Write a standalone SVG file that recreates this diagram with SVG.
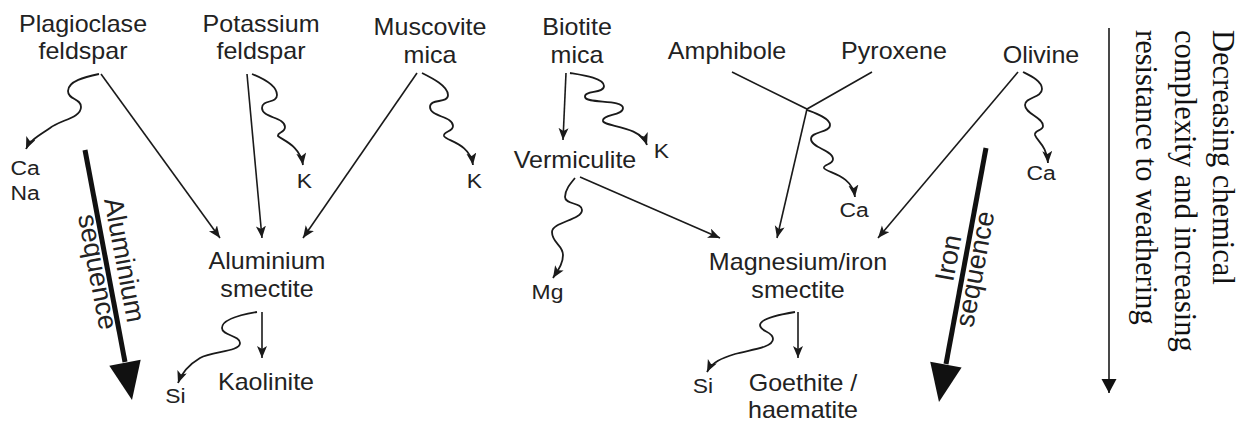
<svg xmlns="http://www.w3.org/2000/svg" width="1245" height="423" viewBox="0 0 1245 423">
<style>
.ln{fill:none;stroke:#1a1a1a;stroke-width:1.6}
.wv{fill:none;stroke:#1a1a1a;stroke-width:1.8}
.lb{font-family:"Liberation Sans",Arial,sans-serif;font-size:23px;fill:#222;text-anchor:middle}
.sm{font-size:21px}
.rt{font-family:"Liberation Sans",Arial,sans-serif;font-size:27px;fill:#222;text-anchor:middle}
.sf{font-family:"Liberation Serif","Times New Roman",serif;font-size:30.5px;fill:#111}
.thick{fill:none;stroke:#111;stroke-width:5}
</style>
<defs>
<marker id="ah" markerUnits="userSpaceOnUse" markerWidth="14" markerHeight="12" refX="12" refY="5" orient="auto">
<path d="M0,0 L12,5 L0,10 L3,5 z" fill="#1a1a1a"/>
</marker>
<marker id="ahv" markerUnits="userSpaceOnUse" markerWidth="16" markerHeight="16" refX="14" refY="7.5" orient="auto">
<path d="M0,0 L14,7.5 L0,15 z" fill="#111"/>
</marker>
</defs>
<rect width="1245" height="423" fill="#fff"/>

<g id="connectors">
<path class="ln" d="M101,74 L220,238" marker-end="url(#ah)"/>
<path class="ln" d="M247,74 L262,238" marker-end="url(#ah)"/>
<path class="ln" d="M417,73 L303,238" marker-end="url(#ah)"/>
<path class="ln" d="M566,73 L563,140" marker-end="url(#ah)"/>
<path class="ln" d="M580,177 L720,238" marker-end="url(#ah)"/>
<path class="ln" d="M732,72 L807,109 L872,72"/>
<path class="ln" d="M807,109 L777,238" marker-end="url(#ah)"/>
<path class="ln" d="M1018,72 L878,238" marker-end="url(#ah)"/>
<path class="ln" d="M262,312 L262,358" marker-end="url(#ah)"/>
<path class="ln" d="M798,312 L798,358" marker-end="url(#ah)"/>

<path class="wv" d="M99,74 C85,77 68,81 68,91 C68,100 81,98 81,107 C81,118 60,120 50,128 C40,135 30,140 26,149" marker-end="url(#ah)"/>
<path class="wv" d="M252,74 C262,78 277,85 277,95 C277,104 262,99 262,108 C262,118 285,117 285,127 C285,133 277,132 278,136 C282,140 300,145 303,165" marker-end="url(#ah)"/>
<path class="wv" d="M422,73 C432,78 448,86 448,95 C448,104 430,98 430,107 C430,117 453,116 453,126 C453,132 443,131 444,136 C446,141 470,143 473,165" marker-end="url(#ah)"/>
<path class="wv" d="M570,73 C582,75 604,78 604,86 C604,94 584,90 585,97 C586,104 623,99 623,108 C623,116 602,114 603,121 C604,127 640,125 647,145" marker-end="url(#ah)"/>
<path class="wv" d="M575,178 C570,184 565,190 565,197 C565,205 582,202 582,210 C582,220 552,222 552,232 C552,243 563,245 563,255 C563,264 558,270 553,278" marker-end="url(#ah)"/>
<path class="wv" d="M807,110 C815,113 830,118 830,125 C830,133 811,131 811,139 C811,148 833,150 833,159 C833,165 823,164 824,168 C826,173 852,174 855,197" marker-end="url(#ah)"/>
<path class="wv" d="M1023,72 C1031,76 1042,81 1042,89 C1042,98 1025,97 1025,105 C1025,114 1043,117 1043,126 C1043,131 1034,130 1035,135 C1037,141 1047,146 1048,163" marker-end="url(#ah)"/>
<path class="wv" d="M257,312 C245,314 222,319 222,328 C222,336 240,335 240,343 C240,352 212,351 200,358 C190,364 182,372 178,383" marker-end="url(#ah)"/>
<path class="wv" d="M795,312 C783,314 760,318 760,325 C760,332 773,331 773,339 C773,348 748,350 735,354 C722,358 712,362 707,372" marker-end="url(#ah)"/>

<path class="thick" d="M85,150 L125,362"/>
<polygon points="109.3,365.7 140.7,359.7 132,400" fill="#111"/>
<path class="thick" d="M986,148 L946,364"/>
<polygon points="930.2,361.7 961.6,367.5 939,402" fill="#111"/>
<path class="ln" d="M1109,28 L1109,393" marker-end="url(#ahv)"/>
</g>

<g id="plagioclase"><text class="lb" transform="translate(83,32) scale(1.09,1)"><tspan x="0" y="0">Plagioclase</tspan><tspan x="0" y="27.5">feldspar</tspan></text></g>
<g id="potassium"><text class="lb" transform="translate(261,32) scale(1.09,1)"><tspan x="0" y="0">Potassium</tspan><tspan x="0" y="27.5">feldspar</tspan></text></g>
<g id="muscovite"><text class="lb" transform="translate(430,35) scale(1.09,1)"><tspan x="0" y="0">Muscovite</tspan><tspan x="0" y="28">mica</tspan></text></g>
<g id="biotite"><text class="lb" transform="translate(577,35) scale(1.09,1)"><tspan x="0" y="0">Biotite</tspan><tspan x="0" y="28">mica</tspan></text></g>
<g id="amphibole"><text class="lb" transform="translate(727,59) scale(1.09,1)">Amphibole</text></g>
<g id="pyroxene"><text class="lb" transform="translate(894,59) scale(1.09,1)">Pyroxene</text></g>
<g id="olivine"><text class="lb" transform="translate(1041,63) scale(1.09,1)">Olivine</text></g>
<g id="vermiculite"><text class="lb" transform="translate(575,168) scale(1.09,1)">Vermiculite</text></g>
<g id="al-smectite"><text class="lb" transform="translate(267,269) scale(1.09,1)"><tspan x="0" y="0">Aluminium</tspan><tspan x="0" y="28">smectite</tspan></text></g>
<g id="kaolinite"><text class="lb" transform="translate(266,390) scale(1.09,1)">Kaolinite</text></g>
<g id="mg-smectite"><text class="lb" transform="translate(798,270) scale(1.09,1)"><tspan x="0" y="0">Magnesium/iron</tspan><tspan x="0" y="28">smectite</tspan></text></g>
<g id="goethite"><text class="lb" transform="translate(803,391) scale(1.09,1)"><tspan x="0" y="0">Goethite /</tspan><tspan x="0" y="27">haematite</tspan></text></g>

<g id="ca-na"><text class="lb sm" transform="translate(25,175) scale(1.09,1)"><tspan x="0" y="0">Ca</tspan><tspan x="0" y="25">Na</tspan></text></g>
<g id="k1"><text class="lb sm" transform="translate(304.5,188) scale(1.09,1)">K</text></g>
<g id="k2"><text class="lb sm" transform="translate(474.5,188) scale(1.09,1)">K</text></g>
<g id="k3"><text class="lb sm" transform="translate(661.5,158) scale(1.09,1)">K</text></g>
<g id="mg"><text class="lb sm" transform="translate(547.5,299) scale(1.09,1)">Mg</text></g>
<g id="ca1"><text class="lb sm" transform="translate(854,217) scale(1.09,1)">Ca</text></g>
<g id="ca2"><text class="lb sm" transform="translate(1041,180) scale(1.09,1)">Ca</text></g>
<g id="si1"><text class="lb sm" transform="translate(175.5,403) scale(1.09,1)">Si</text></g>
<g id="si2"><text class="lb sm" transform="translate(703,393) scale(1.09,1)">Si</text></g>

<g id="al-sequence" transform="translate(106.6,265) rotate(79.35)"><text class="rt"><tspan x="-1.5" y="-9.5">Aluminium</tspan><tspan x="5" y="19">sequence</tspan></text></g>
<g id="fe-sequence" transform="translate(964.4,265) rotate(-79.5)"><text class="rt"><tspan x="4" y="-8">Iron</tspan><tspan x="-2" y="20">sequence</tspan></text></g>

<g id="legend" transform="translate(1213,30) rotate(90)"><text class="sf"><tspan x="0" y="0">Decreasing chemical</tspan><tspan x="0" y="38.5">complexity and increasing</tspan><tspan x="0" y="77">resistance to weathering</tspan></text></g>
</svg>
